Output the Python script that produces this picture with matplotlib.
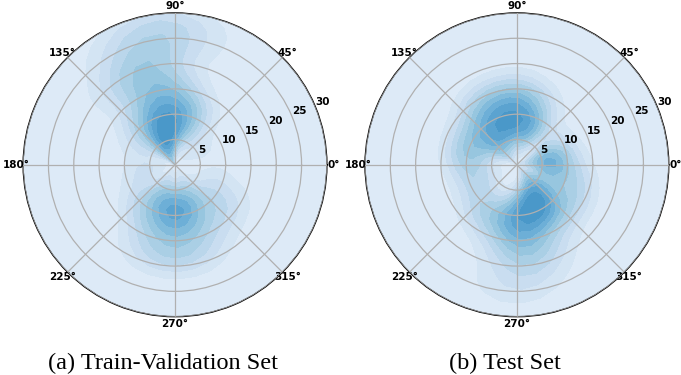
import numpy as np
import matplotlib
matplotlib.use("Agg")
import matplotlib.pyplot as plt

# sample clusters: angle (deg), radius, weight
train_angles = [130, 115, 105, 95, 100, 80, 120, 85, 105, 125, 70,
                95, 110, 118, 108, 95, 90, 100, 112,
                270, 255, 285, 240, 300, 270, 250, 290, 230, 315, 270, 255, 285, 320,
                60, 30, 150, 200, 340, 180]
train_radii = [3, 4.5, 5.5, 7, 9, 8, 8, 12, 12, 11, 11,
               16, 16, 19, 21, 23, 27, 28, 25,
               8.5, 8, 8.5, 6, 6, 12, 13, 13, 10, 10, 17, 18, 18, 14,
               6, 5, 8, 7, 8, 5]
train_weights = [1.3, 1.5, 1.5, 1.3, 1.2, 1, 1, 1, 1, 0.8, 0.7,
                 0.8, 0.8, 0.7, 0.7, 0.6, 0.5, 0.4, 0.4,
                 1.5, 1.3, 1.3, 0.9, 0.9, 1, 0.8, 0.8, 0.7, 0.7, 0.7, 0.5, 0.5, 0.5,
                 0.5, 0.4, 0.5, 0.5, 0.4, 0.4]

test_angles = [80, 100, 115, 130, 145, 65, 90, 115, 135, 155, 95, 120, 75,
               5, 350, 20, 15, 345,
               305, 290, 275, 320, 300, 280, 265, 310, 250, 270, 285, 275, 268, 330,
               180, 200, 165, 220, 235, 82]
test_radii = [7.5, 8, 7, 6, 5, 8, 11, 11, 10, 9, 14, 14, 13,
              6, 6.5, 5, 9, 11,
              6.5, 8, 9, 5, 10, 12, 12, 12, 10, 16, 17, 21, 25, 13,
              9, 8, 11, 9, 12, 24]
test_weights = [1.5, 1.3, 1.3, 1, 0.8, 1, 1, 0.9, 0.8, 0.7, 0.7, 0.6, 0.6,
                1.2, 1, 0.8, 0.6, 0.6,
                1.5, 1.5, 1.2, 1, 1, 1, 0.8, 0.7, 0.7, 0.8, 0.6, 0.5, 0.25, 0.5,
                0.6, 0.6, 0.6, 0.5, 0.5, 0.12]

captions = ["(a) Train-Validation Set", "(b) Test Set"]
rticks = [5, 10, 15, 20, 25, 30]


def polar_kde(angles, radii, weights, th, rr, bw_t=15.0, bw_r=2.8):
    z = np.zeros_like(th)
    for a, r, w in zip(angles, radii, weights):
        for shift in (-360, 0, 360):
            dt = (np.degrees(th) - a - shift) / bw_t
            dr = (rr - r) / bw_r
            z += w * np.exp(-0.5 * (dt ** 2 + dr ** 2))
    return z / z.max()


fig = plt.figure(figsize=(6.81, 3.75), dpi=100)
rects = [[0.034, 0.155, 0.446, 0.811], [0.536, 0.155, 0.446, 0.811]]
cap_x = [163 / 681, 505 / 681]
data = [(train_angles, train_radii, train_weights),
        (test_angles, test_radii, test_weights)]

t = np.radians(np.arange(0, 360.1, 8))
r = np.linspace(0, 30, 21)
TH, RR = np.meshgrid(t, r)
levels = [0, 0.05, 0.11, 0.18, 0.26, 0.35, 0.45, 0.56, 0.68, 0.82, 1.01]
colors = plt.cm.Blues(np.linspace(0.13, 0.6, len(levels) - 1))

for rect, (a, rd, w), cap, cx in zip(rects, data, captions, cap_x):
    ax = fig.add_axes(rect, projection="polar")
    Z = polar_kde(a, rd, w, TH, RR)
    ax.contourf(TH, RR, Z, levels=levels, colors=colors, zorder=0)
    ax.set_ylim(0, 30)
    ax.set_yticks(rticks)
    ax.set_yticklabels([str(v) for v in rticks], fontsize=7.5, fontweight="bold")
    ax.set_thetagrids(np.arange(0, 360, 45),
                      [f"{d}°" for d in range(0, 360, 45)],
                      fontsize=7.5, fontweight="bold")
    ax.tick_params(axis="x", pad=-5.5)
    ax.grid(True, color="#b0b0b0", lw=0.9)
    ax.set_axisbelow(False)
    ax.spines["polar"].set_linewidth(1.0)
    fig.text(cx, 0.03, cap, ha="center", va="center",
             family="Liberation Serif", fontsize=17.5)

fig.savefig("out.png", dpi=100)
